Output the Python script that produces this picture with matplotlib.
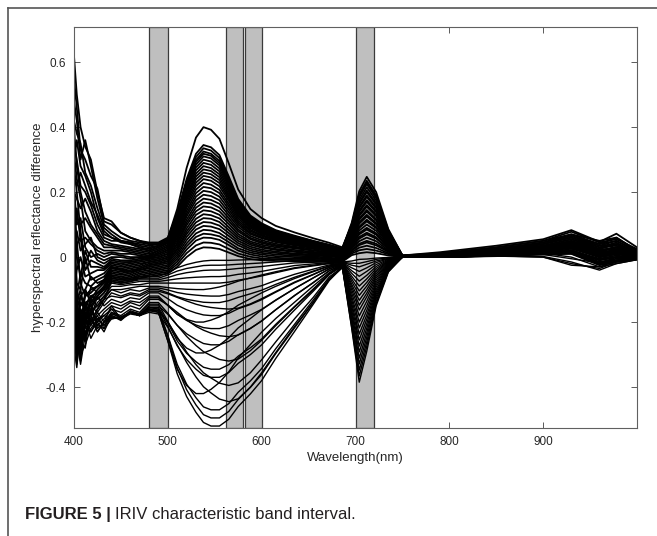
import matplotlib
matplotlib.use("Agg")
import matplotlib.pyplot as plt
from matplotlib.lines import Line2D

wavelength = [400, 403, 407, 412, 418, 425, 432,
              440, 450, 460, 470, 480, 490,
              500, 510, 520, 530, 538, 546, 555, 565, 575, 588, 600,
              615, 635, 655, 672, 686,
              696, 704, 712, 722, 735, 750,
              790, 850, 900, 930, 960, 978, 1000]

# spectra with a positive peak near 540 nm
upper_curves = [
    [.35, .30, .22, .20, .16, .10, .06, .05, .05, .045, .04, .035, .04,
     .058, .148, .274, .368, .40, .392, .364, .288, .208, .148, .12,
     .096, .076, .058, .044, .03, .099, .189, .23, .186, .08, .005,
     .012, .03, .05, .07, .04, .06, .02],
    [.62, .50, .40, .34, .30, .20, .12, .11, .075, .06, .05, .045, .045,
     .06, .135, .24, .318, .345, .338, .314, .248, .179, .128, .104,
     .083, .066, .05, .038, .026, .106, .203, .247, .2, .086, .005,
     .015, .035, .055, .083, .047, .072, .03],
    [.48, .42, .30, .36, .28, .18, .10, .08, .06, .05, .045, .04, .04,
     .055, .129, .232, .308, .335, .328, .305, .241, .174, .124, .10,
     .08, .064, .049, .037, .025, .101, .193, .235, .19, .082, .005,
     .01, .03, .05, .078, .045, .055, .025],
    [.55, .46, .33, .30, .25, .21, .11, .10, .075, .06, .05, .04, .04,
     .054, .126, .225, .299, .325, .318, .296, .234, .169, .12, .098,
     .078, .062, .047, .036, .024, .097, .185, .225, .182, .079, .004,
     .01, .025, .045, .07, .05, .06, .02],
    [.42, .38, .35, .26, .22, .15, .09, .07, .05, .045, .035, .03, .035,
     .049, .12, .219, .293, .318, .312, .289, .229, .165, .118, .095,
     .076, .06, .046, .035, .024, .092, .176, .215, .174, .075, .004,
     .008, .02, .04, .065, .035, .05, .015],
    [.30, .36, .28, .25, .20, .12, .07, .06, .045, .04, .03, .025, .035,
     .049, .118, .214, .285, .31, .304, .282, .223, .161, .115, .093,
     .074, .059, .045, .034, .023, .088, .168, .205, .166, .072, .004,
     .01, .025, .04, .06, .03, .045, .012],
    [.25, .22, .26, .22, .17, .13, .08, .06, .05, .04, .03, .02, .03,
     .044, .111, .206, .276, .30, .294, .273, .216, .156, .111, .09,
     .072, .057, .044, .033, .022, .086, .164, .20, .162, .07, .004,
     .005, .02, .035, .055, .025, .04, .01],
    [.20, .18, .15, .18, .14, .08, .05, .04, .035, .03, .025, .02, .03,
     .043, .108, .199, .267, .29, .284, .264, .209, .151, .107, .087,
     .07, .055, .042, .032, .022, .082, .156, .19, .154, .067, .004,
     .008, .022, .04, .06, .035, .04, .015],
    [.40, .28, .20, .14, .10, .07, .04, .035, .03, .025, .02, .015, .025,
     .038, .102, .191, .257, .28, .274, .255, .202, .146, .104, .084,
     .067, .053, .041, .031, .021, .08, .152, .185, .15, .065, .004,
     .006, .018, .03, .05, .02, .03, .008],
    [.15, .12, .10, .12, .09, .06, .03, .03, .025, .02, .015, .01, .02,
     .033, .095, .183, .248, .27, .265, .246, .194, .14, .10, .081,
     .065, .051, .039, .03, .02, .075, .144, .175, .142, .061, .003,
     .01, .025, .045, .065, .04, .05, .02],
    [.32, .24, .18, .08, .05, .03, .02, .02, .02, .015, .01, .005, .02,
     .032, .092, .176, .239, .26, .255, .237, .187, .135, .096, .078,
     .062, .049, .038, .029, .019, .073, .139, .17, .138, .06, .003,
     .004, .015, .025, .04, .01, .025, .005],
    [.10, .15, .05, .06, .04, .02, .01, .015, .01, .01, .005, 0, .015,
     .027, .086, .168, .229, .25, .245, .228, .18, .13, .093, .075,
     .06, .048, .036, .027, .018, .069, .131, .16, .13, .056, .003,
     .005, .012, .02, .035, .015, .02, .005],
    [.22, .10, .12, .03, 0, .01, 0, .01, .005, 0, 0, -.005, .01,
     .022, .079, .16, .219, .24, .235, .218, .173, .125, .089, .072,
     .058, .046, .035, .026, .018, .067, .127, .155, .126, .054, .003,
     .003, .01, .022, .03, .005, .015, 0],
    [.05, .08, .02, .04, .06, 0, -.01, 0, 0, -.005, 0, .005, .01,
     .021, .075, .152, .208, .228, .223, .207, .164, .119, .084, .068,
     .055, .043, .033, .025, .017, .062, .119, .145, .117, .051, .003,
     .006, .02, .035, .055, .03, .035, .012],
    [.28, .20, .08, -.02, .02, -.01, -.02, -.005, -.01, -.01, -.005, 0, .005,
     .016, .068, .142, .197, .216, .212, .197, .156, .112, .08, .065,
     .052, .041, .031, .024, .016, .06, .115, .14, .113, .049, .003,
     .002, .01, .018, .028, 0, .01, -.002],
    [-.05, .04, .06, -.04, -.01, -.02, -.03, -.01, -.015, -.015, -.01, -.005, 0,
     .01, .061, .133, .186, .204, .20, .186, .147, .106, .075, .061,
     .049, .039, .03, .022, .015, .056, .107, .13, .105, .046, .003,
     .004, .015, .03, .045, .02, .03, .008],
    [.12, 0, -.06, .02, -.03, -.03, -.035, -.015, -.02, -.015, -.01, -.005, 0,
     .01, .058, .125, .175, .192, .188, .175, .138, .10, .071, .058,
     .046, .036, .028, .021, .014, .054, .103, .125, .101, .044, .002,
     .002, .008, .015, .02, -.005, .005, -.003],
    [-.10, -.04, 0, -.06, -.05, -.04, -.04, -.02, -.025, -.02, -.015, -.01, -.005,
     .004, .051, .115, .163, .18, .176, .164, .129, .093, .065, .052,
     .041, .032, .025, .018, .012, .049, .094, .115, .093, .04, .002,
     .005, .018, .032, .05, .025, .04, .01],
    [.08, -.08, -.10, 0, -.07, -.06, -.05, -.025, -.03, -.025, -.02, -.015, -.01,
     -.001, .043, .106, .152, .168, .165, .152, .12, .085, .059, .047,
     .037, .029, .021, .015, .01, .047, .09, .11, .089, .039, .002,
     .001, .006, .012, .018, -.01, 0, -.004],
    [-.15, -.12, -.05, -.08, -.09, -.07, -.06, -.03, -.035, -.03, -.025, -.015, -.01,
     -.002, .04, .098, .141, .156, .153, .141, .111, .079, .055, .043,
     .034, .027, .02, .014, .009, .043, .082, .10, .081, .035, .002,
     .003, .012, .025, .04, .015, .02, .006],
    [.02, -.16, -.12, -.10, -.06, -.08, -.07, -.035, -.04, -.035, -.03, -.02, -.015,
     -.007, .033, .088, .13, .144, .141, .13, .102, .071, .048, .038,
     .03, .022, .016, .011, .006, .039, .074, .09, .073, .032, .002,
     0, .005, .01, .015, -.015, -.005, -.005],
    [-.20, -.10, -.15, -.12, -.11, -.09, -.075, -.04, -.045, -.04, -.035, -.025, -.02,
     -.012, .026, .079, .118, .132, .129, .119, .092, .064, .043, .033,
     .025, .018, .013, .009, .004, .037, .07, .085, .069, .03, .002,
     .004, .015, .028, .045, .02, .03, .01],
    [-.08, -.20, -.18, -.14, -.13, -.10, -.08, -.045, -.05, -.045, -.035, -.025, -.02,
     -.013, .022, .071, .107, .12, .118, .108, .083, .057, .038, .029,
     .022, .016, .011, .007, .003, .032, .062, .075, .061, .026, .002,
     .001, .007, .015, .022, -.008, 0, -.002],
    [-.25, -.24, -.14, -.16, -.15, -.12, -.09, -.05, -.055, -.05, -.04, -.03, -.025,
     -.018, .015, .062, .096, .108, .106, .097, .074, .05, .032, .023,
     .017, .011, .008, .004, .001, .03, .057, .07, .057, .025, .001,
     .002, .01, .02, .035, .01, .02, .005],
    [.18, .05, -.08, -.12, -.10, -.09, -.07, -.03, -.04, -.045, -.04, -.035, -.03,
     -.024, .008, .052, .085, .096, .094, .086, .065, .043, .026, .018,
     .013, .008, .005, .002, -.002, .026, .049, .06, .049, .021, .001,
     0, .004, .01, .012, -.02, -.01, -.004],
    [-.12, -.18, -.22, -.15, -.12, -.11, -.09, -.055, -.06, -.055, -.045, -.04, -.035,
     -.029, .001, .042, .073, .084, .082, .074, .055, .036, .02, .013,
     .008, .004, .002, -.002, -.005, .021, .041, .05, .041, .018, .001,
     .003, .012, .022, .035, .01, .02, .006],
    [-.28, -.14, -.10, -.18, -.16, -.12, -.10, -.06, -.065, -.06, -.05, -.045, -.04,
     -.034, -.006, .033, .062, .072, .07, .064, .046, .027, .014, .008,
     .003, 0, -.002, -.004, -.007, .019, .037, .045, .036, .016, .001,
     0, .003, .008, .01, -.025, -.015, -.006],
    [.08, -.22, -.26, -.10, -.14, -.11, -.095, -.065, -.07, -.065, -.055, -.05, -.045,
     -.04, -.014, .023, .051, .06, .059, .053, .037, .02, .008, .002,
     -.002, -.005, -.005, -.007, -.009, .015, .029, .035, .028, .012, 0,
     .004, .015, .03, .045, .02, .03, .01],
    [-.22, -.30, -.16, -.20, -.12, -.13, -.11, -.07, -.075, -.07, -.06, -.055, -.05,
     -.045, -.022, .012, .036, .045, .044, .039, .025, .011, .001, -.004,
     -.007, -.009, -.009, -.01, -.012, .011, .021, .025, .02, .009, 0,
     .002, .01, .02, .03, 0, .01, .002],
    [-.30, -.18, -.26, -.14, -.20, -.16, -.13, -.075, -.08, -.075, -.065, -.06, -.055,
     -.051, -.03, 0, .022, .03, .029, .025, .014, .003, -.006, -.01,
     -.012, -.013, -.012, -.013, -.014, .006, .012, .015, .012, .005, 0,
     0, .005, .01, .015, -.02, -.01, -.005],
]

# spectra with a negative dip near 550 nm
lower_curves = [
    [-.30, -.22, -.20, -.12, -.10, -.09, -.08, -.06, -.065, -.065, -.06, -.06, -.06,
     -.048, -.033, -.023, -.016, -.012, -.01, -.01, -.01, -.009, -.008, -.007,
     -.006, -.005, -.008, -.011, -.015, -.012, -.007, -.006, -.003, -.001, 0,
     0, .004, .008, -.005, -.018, -.01, -.006],
    [-.12, -.26, -.24, -.18, -.09, -.11, -.09, -.065, -.07, -.07, -.065, -.065, -.065,
     -.055, -.043, -.035, -.03, -.026, -.025, -.025, -.024, -.022, -.02, -.018,
     -.015, -.011, -.012, -.013, -.016, -.019, -.019, -.014, -.007, -.002, 0,
     .002, .01, .018, .03, .005, .015, .003],
    [.10, -.18, -.28, -.10, -.14, -.12, -.10, -.075, -.08, -.075, -.07, -.07, -.07,
     -.063, -.054, -.048, -.044, -.041, -.04, -.04, -.038, -.035, -.032, -.029,
     -.024, -.018, -.016, -.015, -.016, -.025, -.03, -.022, -.012, -.004, 0,
     0, .003, 0, -.02, -.035, -.015, -.008],
    [-.22, -.30, -.16, -.20, -.12, -.13, -.11, -.08, -.085, -.08, -.075, -.075, -.075,
     -.071, -.067, -.064, -.062, -.061, -.06, -.06, -.058, -.053, -.049, -.044,
     -.036, -.026, -.021, -.017, -.017, -.033, -.044, -.033, -.017, -.005, 0,
     .003, .012, .022, .035, .01, .02, .006],
    [.05, -.12, -.22, -.25, -.17, -.15, -.12, -.09, -.09, -.085, -.085, -.08, -.08,
     -.08, -.08, -.08, -.08, -.08, -.08, -.08, -.077, -.071, -.065, -.058,
     -.048, -.035, -.027, -.02, -.017, -.042, -.059, -.044, -.023, -.007, 0,
     0, .005, .01, .012, -.022, -.012, -.006],
    [-.30, -.18, -.26, -.14, -.20, -.16, -.13, -.10, -.10, -.095, -.09, -.09, -.09,
     -.094, -.097, -.099, -.10, -.10, -.097, -.092, -.084, -.074, -.064, -.055,
     -.045, -.033, -.025, -.019, -.017, -.05, -.074, -.056, -.029, -.009, 0,
     .002, .01, .02, .028, 0, .01, .002],
    [-.18, -.32, -.20, -.17, -.18, -.14, -.12, -.10, -.11, -.10, -.105, -.095, -.095,
     -.101, -.109, -.114, -.117, -.119, -.12, -.12, -.115, -.106, -.097, -.088,
     -.072, -.053, -.037, -.024, -.019, -.059, -.089, -.067, -.035, -.011, 0,
     .004, .015, .03, .045, .02, .03, .01],
    [.15, -.10, -.30, -.18, -.15, -.17, -.14, -.11, -.12, -.11, -.115, -.10, -.10,
     -.11, -.122, -.13, -.135, -.139, -.14, -.14, -.134, -.124, -.113, -.102,
     -.084, -.062, -.043, -.027, -.019, -.067, -.104, -.078, -.041, -.012, 0,
     0, .004, .002, -.015, -.04, -.02, -.008],
    [-.26, -.20, -.24, -.22, -.13, -.15, -.13, -.12, -.125, -.115, -.12, -.105, -.105,
     -.113, -.124, -.135, -.145, -.151, -.155, -.158, -.16, -.157, -.144, -.128,
     -.106, -.077, -.053, -.031, -.021, -.075, -.118, -.089, -.046, -.014, 0,
     .003, .012, .025, .04, .012, .02, .004],
    [-.08, -.28, -.18, -.24, -.19, -.12, -.15, -.13, -.14, -.125, -.13, -.11, -.11,
     -.128, -.148, -.162, -.172, -.178, -.18, -.18, -.173, -.159, -.146, -.131,
     -.108, -.079, -.054, -.032, -.02, -.084, -.133, -.10, -.052, -.016, 0,
     .001, .006, .012, .02, -.015, -.01, -.004],
    [-.34, -.24, -.12, -.16, -.21, -.18, -.16, -.14, -.15, -.135, -.14, -.12, -.12,
     -.148, -.176, -.192, -.20, -.20, -.194, -.184, -.168, -.148, -.128, -.11,
     -.09, -.066, -.045, -.028, -.019, -.092, -.148, -.111, -.058, -.018, 0,
     .004, .014, .028, .042, .018, .025, .008],
    [.05, -.16, -.26, -.28, -.16, -.20, -.17, -.15, -.16, -.14, -.15, -.125, -.125,
     -.149, -.176, -.195, -.209, -.217, -.22, -.22, -.211, -.195, -.178, -.161,
     -.132, -.097, -.064, -.036, -.022, -.101, -.163, -.122, -.064, -.02, 0,
     0, .004, 0, -.025, -.03, -.02, -.008],
    [-.28, -.34, -.22, -.18, -.23, -.19, -.18, -.16, -.17, -.15, -.16, -.13, -.13,
     -.147, -.17, -.193, -.213, -.225, -.234, -.242, -.245, -.24, -.22, -.196,
     -.162, -.118, -.079, -.042, -.025, -.111, -.181, -.136, -.071, -.022, 0,
     .002, .01, .02, .032, .005, .015, .004],
    [-.15, -.22, -.32, -.20, -.14, -.22, -.20, -.17, -.18, -.16, -.17, -.14, -.14,
     -.173, -.21, -.236, -.254, -.266, -.27, -.27, -.259, -.239, -.219, -.197,
     -.162, -.119, -.078, -.042, -.023, -.122, -.20, -.15, -.078, -.024, 0,
     .003, .012, .022, .035, .008, .02, .006],
    [-.32, -.12, -.28, -.23, -.20, -.18, -.22, -.17, -.19, -.165, -.175, -.145, -.145,
     -.198, -.25, -.28, -.295, -.295, -.286, -.271, -.248, -.218, -.189, -.162,
     -.133, -.097, -.064, -.037, -.021, -.132, -.218, -.164, -.085, -.026, 0,
     .001, .008, .016, .01, -.02, 0, -.003],
    [-.20, -.30, -.25, -.15, -.18, -.23, -.20, -.18, -.19, -.17, -.18, -.15, -.15,
     -.176, -.21, -.244, -.272, -.291, -.303, -.315, -.32, -.314, -.288, -.256,
     -.211, -.154, -.101, -.052, -.028, -.143, -.237, -.178, -.092, -.028, 0,
     .002, .01, .018, .03, 0, .01, .002],
    [-.05, -.26, -.33, -.24, -.16, -.20, -.23, -.18, -.195, -.17, -.18, -.155, -.155,
     -.203, -.258, -.296, -.322, -.339, -.345, -.345, -.331, -.305, -.279, -.252,
     -.207, -.152, -.098, -.051, -.025, -.153, -.255, -.191, -.10, -.031, 0,
     0, .005, .012, 0, -.03, -.012, -.005],
    [-.26, -.18, -.30, -.27, -.22, -.19, -.21, -.185, -.19, -.175, -.18, -.16, -.16,
     -.213, -.273, -.315, -.345, -.364, -.37, -.37, -.355, -.327, -.30, -.27,
     -.222, -.163, -.105, -.054, -.026, -.164, -.274, -.205, -.107, -.033, 0,
     .002, .01, .02, .03, .005, .012, .004],
    [-.10, -.33, -.20, -.19, -.25, -.21, -.22, -.19, -.185, -.17, -.175, -.165, -.165,
     -.20, -.246, -.292, -.331, -.356, -.372, -.388, -.395, -.387, -.356, -.316,
     -.261, -.19, -.124, -.061, -.031, -.174, -.292, -.219, -.114, -.035, 0,
     .001, .006, .012, .02, -.008, 0, -.002],
    [-.20, -.28, -.22, -.26, -.16, -.21, -.19, -.16, -.19, -.17, -.18, -.165, -.17,
     -.258, -.345, -.395, -.42, -.42, -.407, -.386, -.353, -.311, -.269, -.231,
     -.189, -.139, -.089, -.048, -.023, -.185, -.311, -.233, -.121, -.037, 0,
     .003, .012, .022, .035, .008, .02, .006],
    [-.15, -.25, -.31, -.20, -.17, -.19, -.21, -.175, -.185, -.17, -.18, -.17, -.175,
     -.216, -.27, -.324, -.369, -.399, -.418, -.437, -.445, -.436, -.40, -.356,
     -.294, -.214, -.139, -.068, -.033, -.196, -.329, -.247, -.128, -.039, 0,
     0, .004, .01, .015, -.02, -.01, -.004],
    [-.24, -.20, -.27, -.23, -.21, -.17, -.20, -.185, -.19, -.17, -.175, -.16, -.165,
     -.241, -.33, -.391, -.433, -.461, -.47, -.47, -.451, -.416, -.381, -.343,
     -.282, -.207, -.132, -.066, -.029, -.206, -.348, -.261, -.136, -.042, 0,
     .002, .01, .02, .03, .005, .012, .004],
    [-.28, -.24, -.18, -.21, -.23, -.20, -.18, -.19, -.185, -.17, -.175, -.155, -.16,
     -.244, -.341, -.408, -.455, -.485, -.495, -.495, -.475, -.438, -.401, -.361,
     -.297, -.218, -.139, -.069, -.03, -.217, -.366, -.275, -.143, -.044, 0,
     .001, .006, .012, .02, -.008, 0, -.002],
    [-.20, -.28, -.25, -.20, -.19, -.23, -.20, -.15, -.19, -.17, -.18, -.16, -.17,
     -.258, -.359, -.429, -.478, -.509, -.52, -.52, -.499, -.46, -.421, -.38,
     -.312, -.229, -.145, -.072, -.031, -.22, -.385, -.29, -.15, -.046, 0,
     .002, .008, .015, .025, 0, .01, 0],
]

# selected characteristic band intervals (nm)
bands = [(480, 500), (562, 580), (582, 600), (701, 720)]

x_ticks = [400, 500, 600, 700, 800, 900]
y_ticks = [-0.4, -0.2, 0, 0.2, 0.4, 0.6]
y_tick_labels = ["-0.4", "-0.2", "0", "0.2", "0.4", "0.6"]

plt.rcParams["font.family"] = ["Liberation Sans", "DejaVu Sans"]

fig = plt.figure(figsize=(6.57, 5.36), dpi=100)
ax = fig.add_axes([0.1126, 0.2015, 0.857, 0.748])

for lo, hi in bands:
    ax.axvspan(lo, hi, facecolor="#bfbfbf", edgecolor="#3a3a3a", linewidth=0.9, zorder=1)

for curve in upper_curves:
    ax.plot(wavelength, curve, color="black", linewidth=1.3, zorder=2)
for curve in lower_curves:
    ax.plot(wavelength, curve, color="black", linewidth=1.0, zorder=2)

ax.set_xlim(400, 1000)
ax.set_ylim(-0.526, 0.708)
ax.set_xticks(x_ticks)
ax.set_yticks(y_ticks)
ax.set_yticklabels(y_tick_labels)
ax.tick_params(direction="in", length=4, width=0.6, colors="#404040",
               labelcolor="#262626", labelsize=8.5, top=True, right=True, pad=6)
for spine in ax.spines.values():
    spine.set_color("#606060")
    spine.set_linewidth(0.8)

ax.set_xlabel("Wavelength(nm)", fontsize=9.5, color="#262626", labelpad=3)
ax.set_ylabel("hyperspectral reflectance difference", fontsize=9.5, color="#262626", labelpad=1)

# figure frame (top and left edges only)
fig.add_artist(Line2D([8 / 657, 1.0], [1 - 8 / 536, 1 - 8 / 536], color="#555555", linewidth=1.2))
fig.add_artist(Line2D([8 / 657, 8 / 657], [0.0, 1 - 8 / 536], color="#555555", linewidth=1.2))

cap = fig.text(25 / 657, 1 - 519 / 536, "FIGURE 5 |", fontsize=12, fontweight="bold",
               color="#231f20", va="baseline")
fig.canvas.draw()
bb = cap.get_window_extent()
fig.text(bb.x1 / fig.bbox.width + 4 / 657, 1 - 519 / 536, "IRIV characteristic band interval.",
         fontsize=12, color="#231f20", va="baseline")

fig.savefig("out.png", dpi=100)
